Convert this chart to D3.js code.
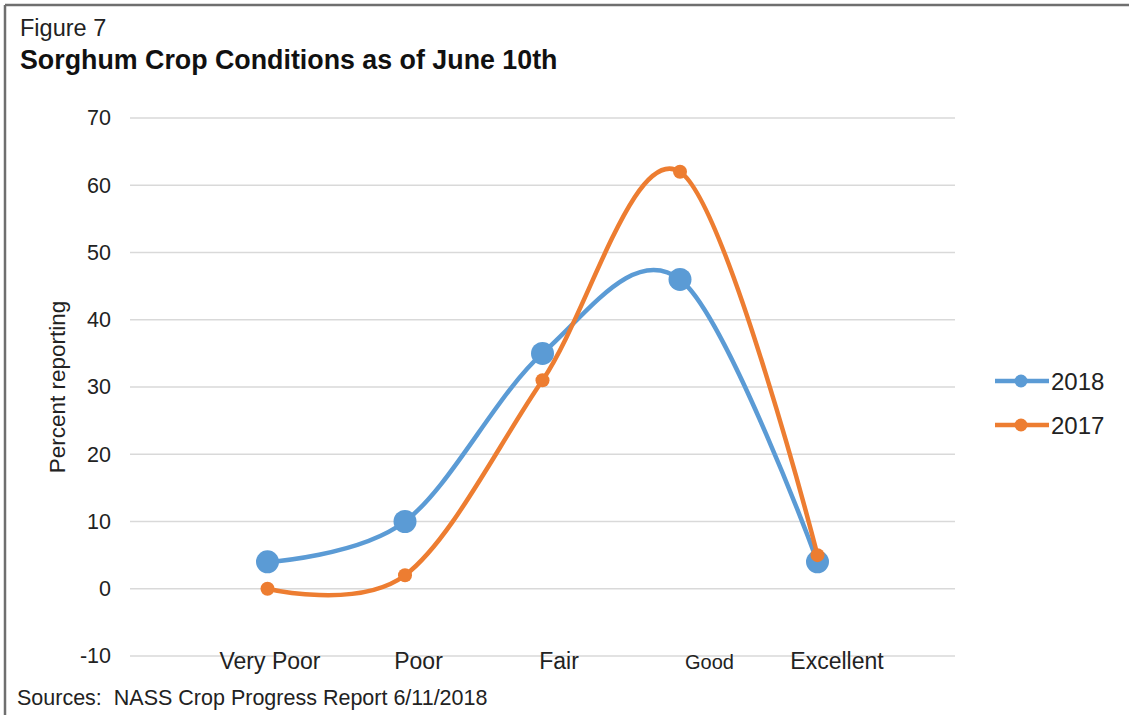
<!DOCTYPE html>
<html>
<head>
<meta charset="utf-8">
<script src="https://cdn.jsdelivr.net/npm/d3@7"></script>
<style>
  html, body { margin: 0; padding: 0; background: #fff; }
  svg { display: block; font-family: "Liberation Sans", Arial, sans-serif; }
</style>
</head>
<body>
<svg id="chart" width="1129" height="715"></svg>
<script>
// ---- data ----
const categories = ["Very Poor", "Poor", "Fair", "Good", "Excellent"];
const values2018 = [4, 10, 35, 46, 4];
const values2017 = [0, 2, 31, 62, 5];
const yTicks = [-10, 0, 10, 20, 30, 40, 50, 60, 70];
const seriesNames = ["2018", "2017"];

// ---- styling (not data) ----
const colors = { "2018": "#5B9BD5", "2017": "#ED7D31" };
const markerR = { "2018": 11.5, "2017": 7 };
const labelNudge = [2, 13, 16, 29, 19];
const labelSize = [23, 23, 23, 20, 23];

const svg = d3.select("#chart");
const W = 1129, H = 715;

// frame
svg.append("line").attr("x1", 5).attr("x2", W).attr("y1", 5).attr("y2", 5)
  .attr("stroke", "#6f6f6f").attr("stroke-width", 2.5);
svg.append("line").attr("x1", 5).attr("x2", 5).attr("y1", 5).attr("y2", H)
  .attr("stroke", "#6f6f6f").attr("stroke-width", 2.5);

// titles
svg.append("text").attr("x", 20).attr("y", 36).attr("font-size", 23.5).attr("fill", "#222")
  .text("Figure 7");
svg.append("text").attr("x", 20).attr("y", 69).attr("font-size", 26.8).attr("font-weight", "bold")
  .attr("fill", "#111").text("Sorghum Crop Conditions as of June 10th");

// scales
const x = d3.scalePoint().domain(categories).range([130, 955]).padding(1);
const y = d3.scaleLinear().domain([-10, 70]).range([656, 118]);

// gridlines
svg.append("g").selectAll("line").data(yTicks).join("line")
  .attr("x1", 130).attr("x2", 955)
  .attr("y1", d => y(d)).attr("y2", d => y(d))
  .attr("stroke", "#d9d9d9").attr("stroke-width", 1.5);

// y axis
const yAxis = svg.append("g").attr("transform", "translate(111,0)")
  .call(d3.axisLeft(y).tickValues(yTicks).tickSize(0).tickPadding(0).tickFormat(d => String(d)));
yAxis.select(".domain").remove();
yAxis.selectAll("text").attr("font-size", 21.5).attr("fill", "#222")
  .attr("font-family", "Liberation Sans, Arial, sans-serif");

// x axis labels
const xAxis = svg.append("g").attr("transform", "translate(0,669)")
  .call(d3.axisBottom(x).tickSize(0).tickPadding(0));
xAxis.select(".domain").remove();
xAxis.selectAll("text")
  .attr("dy", 0).attr("y", 0)
  .attr("dx", (d, i) => labelNudge[i])
  .attr("font-size", (d, i) => labelSize[i])
  .attr("fill", "#222")
  .attr("font-family", "Liberation Sans, Arial, sans-serif");

// y title
svg.append("text")
  .attr("transform", "translate(65,387) rotate(-90)")
  .attr("text-anchor", "middle").attr("font-size", 22.5).attr("fill", "#222")
  .text("Percent reporting");

// lines
const series = [
  { name: "2018", values: values2018 },
  { name: "2017", values: values2017 }
];
const line = d3.line()
  .x((d, i) => x(categories[i]))
  .y(d => y(d))
  .curve(d3.curveCardinal.tension(0));

series.forEach(s => {
  const g = svg.append("g");
  g.append("path").attr("d", line(s.values))
    .attr("fill", "none").attr("stroke", colors[s.name])
    .attr("stroke-width", 4.5).attr("stroke-linecap", "round").attr("stroke-linejoin", "round");
  g.selectAll("circle").data(s.values).join("circle")
    .attr("cx", (d, i) => x(categories[i]))
    .attr("cy", d => y(d))
    .attr("r", markerR[s.name])
    .attr("fill", colors[s.name]);
});

// legend
const legend = svg.append("g");
seriesNames.forEach((name, i) => {
  const ly = 381 + i * 44;
  legend.append("line").attr("x1", 995).attr("x2", 1049).attr("y1", ly).attr("y2", ly)
    .attr("stroke", colors[name]).attr("stroke-width", 4.5);
  legend.append("circle").attr("cx", 1021).attr("cy", ly).attr("r", 6.5).attr("fill", colors[name]);
  legend.append("text").attr("x", 1051).attr("y", ly + 8.5).attr("font-size", 24).attr("fill", "#222")
    .text(name);
});

// source
svg.append("text").attr("x", 17).attr("y", 705).attr("font-size", 21.5).attr("fill", "#222")
  .style("white-space", "pre")
  .text("Sources:  NASS Crop Progress Report 6/11/2018");
</script>
</body>
</html>
